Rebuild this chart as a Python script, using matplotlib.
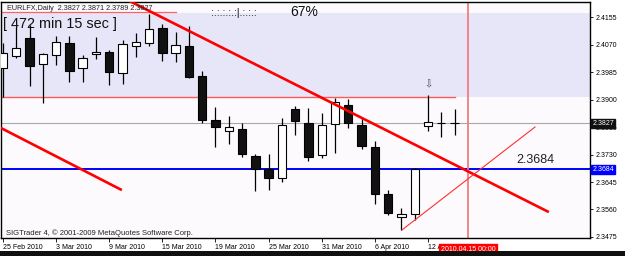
import matplotlib
matplotlib.use("Agg")
import matplotlib.pyplot as plt
from matplotlib.patches import Rectangle
import matplotlib.transforms as mtransforms

plt.rcParams['font.family'] = ['Liberation Sans', 'DejaVu Sans']

# ---------------- data ----------------
dates = ["25 Feb", "26 Feb", "1 Mar", "2 Mar", "3 Mar", "4 Mar", "5 Mar", "8 Mar",
         "9 Mar", "10 Mar", "11 Mar", "12 Mar", "15 Mar", "16 Mar", "17 Mar", "18 Mar",
         "19 Mar", "22 Mar", "23 Mar", "24 Mar", "25 Mar", "26 Mar", "29 Mar", "30 Mar",
         "31 Mar", "1 Apr", "2 Apr", "5 Apr", "6 Apr", "7 Apr", "8 Apr", "9 Apr",
         "12 Apr", "13 Apr", "14 Apr"]
opens = [2.3997, 2.4034, 2.4090, 2.4010, 2.4038, 2.4075, 2.3997, 2.4041,
         2.4047, 2.3982, 2.4065, 2.4075, 2.4121, 2.4044, 2.4065, 2.3973,
         2.3837, 2.3803, 2.3809, 2.3725, 2.3685, 2.3657, 2.3871, 2.3827,
         2.3728, 2.3824, 2.3883, 2.3821, 2.3753, 2.3608, 2.3537, 2.3546,
         2.3818, 2.3827, 2.3827]
highs = [2.4075, 2.4124, 2.4130, 2.4044, 2.4096, 2.4096, 2.4038, 2.4093,
         2.4053, 2.4084, 2.4106, 2.4164, 2.4133, 2.4109, 2.4127, 2.3988,
         2.3877, 2.3849, 2.3827, 2.3731, 2.3731, 2.3843, 2.3880, 2.3874,
         2.3858, 2.3905, 2.3902, 2.3846, 2.3772, 2.3620, 2.3565, 2.3688,
         2.3914, 2.3861, 2.3871]
lows = [2.3908, 2.4028, 2.3942, 2.3889, 2.4007, 2.3954, 2.3954, 2.4025,
        2.3945, 2.3948, 2.4031, 2.4065, 2.4019, 2.4016, 2.3966, 2.3827,
        2.3753, 2.3762, 2.3722, 2.3617, 2.3620, 2.3645, 2.3790, 2.3710,
        2.3719, 2.3735, 2.3812, 2.3747, 2.3577, 2.3543, 2.3497, 2.3528,
        2.3803, 2.3784, 2.3789]
closes = [2.4044, 2.4059, 2.4004, 2.4041, 2.4078, 2.3988, 2.4028, 2.4047,
          2.3985, 2.4072, 2.4078, 2.4118, 2.4044, 2.4068, 2.3970, 2.3837,
          2.3815, 2.3815, 2.3731, 2.3685, 2.3657, 2.3821, 2.3834, 2.3722,
          2.3821, 2.3892, 2.3827, 2.3756, 2.3608, 2.3549, 2.3546, 2.3685,
          2.3830, 2.3827, 2.3827]

x_tick_pos = [0, 4, 8, 12, 16, 20, 24, 28, 32]
x_tick_labels = ["25 Feb 2010", "3 Mar 2010", "9 Mar 2010", "15 Mar 2010", "19 Mar 2010",
                 "25 Mar 2010", "31 Mar 2010", "6 Apr 2010", "12 Apr 2010"]
y_ticks = [2.4155, 2.4070, 2.3985, 2.3900, 2.3815, 2.3730, 2.3645, 2.3560, 2.3475]

bid_price = 2.3827
level_price = 2.3684
resist_price = 2.3908
zone_low, zone_high = 2.3908, 2.4167
top_line_price, top_line_end = 2.4170, 13.0
resist_end = 34.0
trend_main = ([9.5, 41.1], [2.4205, 2.3552])
trend_channel = ([-0.3, 8.95], [2.3815, 2.3620])
trend_thin = ([30.05, 40.06], [2.3497, 2.3815])
vline_idx = 35
vline_label = "2010.04.15 00:00"
arrow_idx, arrow_price = 32, 2.3947

title_text = "EURLFX,Daily  2.3827 2.3871 2.3789 2.3827"
timer_text = "[ 472 min 15 sec ]"
progress_text = ":.:.:.:.:|.:.:.:"
percent_text = "67%"
copyright_text = "SIGTrader 4, \u00a9 2001-2009 MetaQuotes Software Corp."

# ---------------- figure ----------------
W, H = 625, 256
fig = plt.figure(figsize=(W / 100, H / 100), dpi=100)
fig.patch.set_facecolor('white')

def fx(x):
    return x / W

def fy(y):
    return 1 - y / H

ax_l, ax_r, ax_t, ax_b = 1, 590, 2, 238
ax = fig.add_axes([fx(ax_l), fy(ax_b), (ax_r - ax_l) / W, (ax_b - ax_t) / H])
ax.set_facecolor('#FCFAFC')
ax.set_xlim(-0.15, 44.2)
ax.set_ylim(2.34719, 2.42014)

# zones and lines
ax.axhspan(zone_low, zone_high, color='#E6E6F8', zorder=0, lw=0)
ax.plot([-1, top_line_end], [top_line_price, top_line_price], color='#FF6060', lw=0.9, zorder=1)
ax.plot([-1, resist_end], [resist_price, resist_price], color='#FF5A5A', lw=1.0, zorder=1)
ax.axhline(bid_price, color='#A8A8A8', lw=0.8, zorder=1)
ax.axhline(level_price, color='#0000FF', lw=1.4, zorder=1)
ax.axvline(vline_idx, color='#F27C7C', lw=1.3, zorder=1)

# candles
body_w = 0.63
for i, (o, h, l, c) in enumerate(zip(opens, highs, lows, closes)):
    ax.plot([i, i], [l, h], color='black', lw=0.9, zorder=3, solid_capstyle='butt')
    bottom = min(o, c)
    height = abs(c - o)
    face = 'white' if c >= o else '#111111'
    ax.add_patch(Rectangle((i - body_w / 2, bottom), body_w, height,
                           facecolor=face, edgecolor='black', lw=0.8, zorder=4))

# trend lines
ax.plot(*trend_main, color='#FF0000', lw=1.9, zorder=5, solid_capstyle='butt')
ax.plot(*trend_channel, color='#FF0000', lw=1.9, zorder=5, solid_capstyle='butt')
ax.plot(*trend_thin, color='#FF3030', lw=0.8, zorder=5)

# arrow
ax.text(arrow_idx, arrow_price, "\u21e9", fontsize=7, ha='center', va='center',
        color='#444444', family=['DejaVu Sans'], zorder=6)

# level text
ax.text(40.1, 2.3712, "2.3684", fontsize=9, ha='center', va='center', color='#222222', zorder=6)

# axes styling
for s in ax.spines.values():
    s.set_color('black')
    s.set_linewidth(1.0)
ax.yaxis.tick_right()
ax.set_yticks(y_ticks)
ax.set_yticklabels([f"{v:.4f}" for v in y_ticks])
ax.tick_params(axis='y', length=2.5, width=0.6, pad=1.5, labelsize=5, colors='black')
ax.set_xticks(x_tick_pos)
ax.set_xticklabels(x_tick_labels)
ax.tick_params(axis='x', length=3, width=0.6, pad=1.0, labelsize=5, colors='black')
for lbl in ax.get_xticklabels():
    lbl.set_ha('left')

# price label boxes on the right axis
trans = mtransforms.blended_transform_factory(ax.transAxes, ax.transData)
ax.text(1.004, bid_price, "2.3827", transform=trans, fontsize=5, color='white',
        ha='left', va='center', clip_on=False, zorder=10,
        bbox=dict(boxstyle='square,pad=0.15', fc='#101010', ec='#101010'))
ax.text(1.004, level_price, "2.3684", transform=trans, fontsize=5, color='white',
        ha='left', va='center', clip_on=False, zorder=10,
        bbox=dict(boxstyle='square,pad=0.15', fc='#0000FF', ec='#0000FF'))

# vertical line date label
trans2 = mtransforms.blended_transform_factory(ax.transData, ax.transAxes)
ax.text(vline_idx, -0.048, vline_label, transform=trans2, fontsize=5, color='white',
        ha='center', va='center', clip_on=False, zorder=10,
        bbox=dict(boxstyle='square,pad=0.2', fc='#FF0000', ec='#FF0000'))

# header texts
fig.text(fx(7), fy(8), title_text, fontsize=5.2, ha='left', va='center', color='#222222')
fig.text(fx(3), fy(24), timer_text, fontsize=10.4, ha='left', va='center', color='#111111')
fig.text(fx(211), fy(13), progress_text, fontsize=7.5, ha='left', va='center', color='#111111')
fig.text(fx(290), fy(12), percent_text, fontsize=10, ha='left', va='center', color='#111111')
fig.text(fx(6), fy(233), copyright_text, fontsize=5.5, ha='left', va='center', color='#222222')

# window bottom border
fig.add_artist(Rectangle((0, 0), 1, fy(251), transform=fig.transFigure,
                         facecolor='#101010', edgecolor='none'))

fig.savefig("out.png", dpi=100)
